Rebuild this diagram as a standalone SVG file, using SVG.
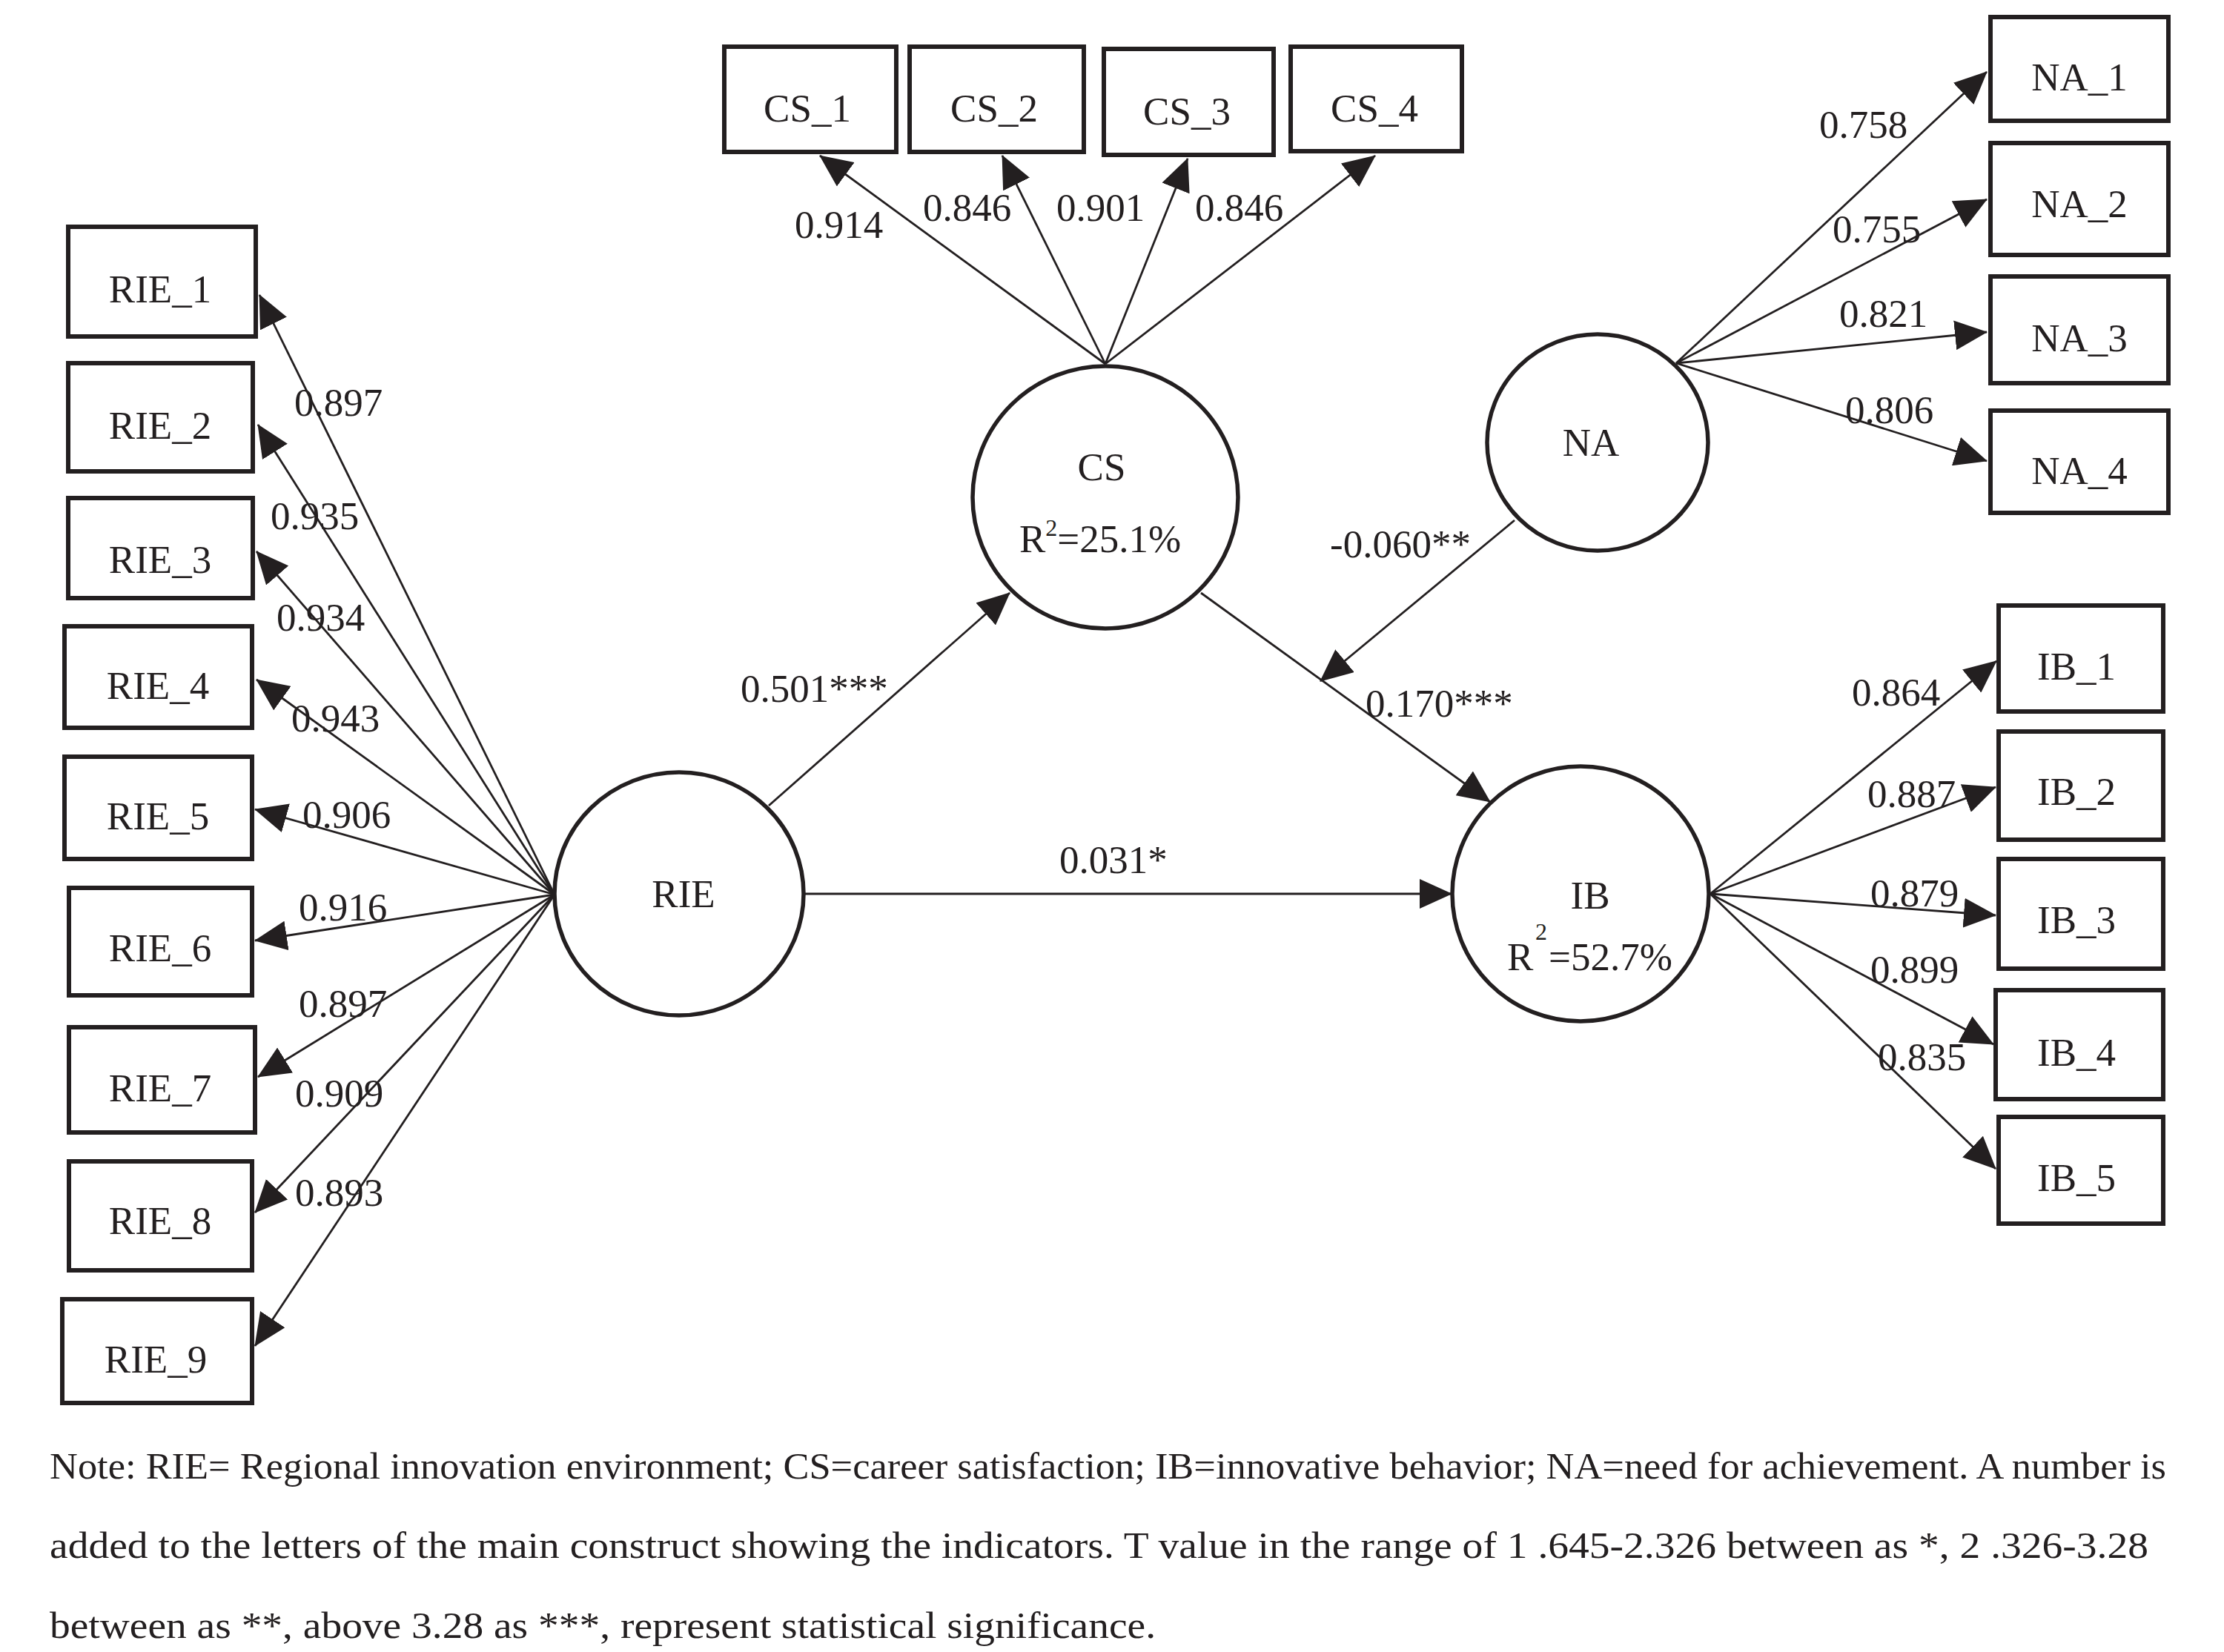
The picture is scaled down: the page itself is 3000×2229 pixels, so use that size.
<svg xmlns="http://www.w3.org/2000/svg" width="3000" height="2229" viewBox="0 0 3000 2229">
<style>
text{font-family:"Liberation Serif","Times New Roman",serif;fill:#231f20}
.box{fill:#fff;stroke:#231f20;stroke-width:6}
.lat{fill:#fff;stroke:#231f20;stroke-width:5.5}
.t{font-size:53px;text-anchor:middle}
.l{font-size:53px}
.n{font-size:50px}
.c line{stroke:#231f20;stroke-width:2.8;marker-end:url(#ah)}
</style>
<defs>
<marker id="ah" markerUnits="userSpaceOnUse" markerWidth="44" markerHeight="40" refX="43" refY="20" orient="auto" viewBox="0 0 44 40">
<path d="M0,0 L44,20 L0,40 Z" fill="#231f20"/>
</marker>
</defs>
<rect width="3000" height="2229" fill="#fff"/>
<g class="c" id="connectors">
<line x1="748" y1="1207" x2="350" y2="398"/>
<line x1="748" y1="1207" x2="348" y2="573"/>
<line x1="748" y1="1207" x2="346" y2="744"/>
<line x1="748" y1="1207" x2="346" y2="917"/>
<line x1="748" y1="1207" x2="344" y2="1092"/>
<line x1="748" y1="1207" x2="344" y2="1269"/>
<line x1="748" y1="1207" x2="348" y2="1453"/>
<line x1="748" y1="1207" x2="344" y2="1636"/>
<line x1="748" y1="1207" x2="344" y2="1816"/>
<line x1="1491" y1="491" x2="1106" y2="210"/>
<line x1="1491" y1="491" x2="1352" y2="210"/>
<line x1="1491" y1="491" x2="1602" y2="214"/>
<line x1="1491" y1="491" x2="1855" y2="210"/>
<line x1="2261" y1="490" x2="2680" y2="97"/>
<line x1="2261" y1="490" x2="2680" y2="269"/>
<line x1="2261" y1="490" x2="2680" y2="448"/>
<line x1="2261" y1="490" x2="2680" y2="622"/>
<line x1="2307" y1="1206" x2="2693" y2="892"/>
<line x1="2307" y1="1206" x2="2692" y2="1062"/>
<line x1="2307" y1="1206" x2="2692" y2="1235"/>
<line x1="2307" y1="1206" x2="2689" y2="1409"/>
<line x1="2307" y1="1206" x2="2692" y2="1577"/>
<line x1="1037" y1="1087" x2="1362" y2="800"/>
<line x1="1085" y1="1206" x2="1958" y2="1206"/>
<line x1="1620" y1="800" x2="2010" y2="1082"/>
<line x1="2043" y1="702" x2="1781" y2="919"/>
</g>
<g id="labels" class="l">
<text x="397" y="561">0.897</text>
<text x="365" y="714">0.935</text>
<text x="373" y="851">0.934</text>
<text x="393" y="987">0.943</text>
<text x="408" y="1117">0.906</text>
<text x="403" y="1242">0.916</text>
<text x="403" y="1372">0.897</text>
<text x="398" y="1493">0.909</text>
<text x="398" y="1627">0.893</text>
<text x="999" y="947">0.501***</text>
<text x="1072" y="321">0.914</text>
<text x="1245" y="298">0.846</text>
<text x="1425" y="298">0.901</text>
<text x="1612" y="298">0.846</text>
<text x="2454" y="186">0.758</text>
<text x="2472" y="327">0.755</text>
<text x="2481" y="441">0.821</text>
<text x="2489" y="571">0.806</text>
<text x="1794" y="752">-0.060**</text>
<text x="1842" y="967">0.170***</text>
<text x="1429" y="1178">0.031*</text>
<text x="2498" y="952">0.864</text>
<text x="2519" y="1089">0.887</text>
<text x="2523" y="1223">0.879</text>
<text x="2523" y="1326">0.899</text>
<text x="2533" y="1444">0.835</text>
</g>
<g id="RIE_1"><rect class="box" x="92" y="306" width="253" height="148"/><text class="t" x="216" y="408">RIE_1</text></g>
<g id="RIE_2"><rect class="box" x="92" y="490" width="249" height="146"/><text class="t" x="216" y="592">RIE_2</text></g>
<g id="RIE_3"><rect class="box" x="92" y="672" width="249" height="135"/><text class="t" x="216" y="773">RIE_3</text></g>
<g id="RIE_4"><rect class="box" x="87" y="845" width="253" height="137"/><text class="t" x="213" y="943">RIE_4</text></g>
<g id="RIE_5"><rect class="box" x="87" y="1021" width="253" height="138"/><text class="t" x="213" y="1119">RIE_5</text></g>
<g id="RIE_6"><rect class="box" x="93" y="1198" width="247" height="145"/><text class="t" x="216" y="1297">RIE_6</text></g>
<g id="RIE_7"><rect class="box" x="93" y="1386" width="251" height="142"/><text class="t" x="216" y="1486">RIE_7</text></g>
<g id="RIE_8"><rect class="box" x="93" y="1567" width="247" height="147"/><text class="t" x="216" y="1665">RIE_8</text></g>
<g id="RIE_9"><rect class="box" x="84" y="1753" width="256" height="140"/><text class="t" x="210" y="1852">RIE_9</text></g>
<g id="CS_1"><rect class="box" x="977" y="63" width="232" height="142"/><text class="t" x="1089" y="164">CS_1</text></g>
<g id="CS_2"><rect class="box" x="1227" y="63" width="235" height="142"/><text class="t" x="1341" y="164">CS_2</text></g>
<g id="CS_3"><rect class="box" x="1489" y="66" width="229" height="143"/><text class="t" x="1601" y="168">CS_3</text></g>
<g id="CS_4"><rect class="box" x="1741" y="63" width="231" height="141"/><text class="t" x="1854" y="164">CS_4</text></g>
<g id="NA_1"><rect class="box" x="2685" y="23" width="240" height="140"/><text class="t" x="2805" y="122">NA_1</text></g>
<g id="NA_2"><rect class="box" x="2685" y="193" width="240" height="151"/><text class="t" x="2805" y="293">NA_2</text></g>
<g id="NA_3"><rect class="box" x="2685" y="373" width="240" height="144"/><text class="t" x="2805" y="474">NA_3</text></g>
<g id="NA_4"><rect class="box" x="2685" y="554" width="240" height="138"/><text class="t" x="2805" y="653">NA_4</text></g>
<g id="IB_1"><rect class="box" x="2696" y="817" width="222" height="143"/><text class="t" x="2801" y="917">IB_1</text></g>
<g id="IB_2"><rect class="box" x="2696" y="987" width="222" height="146"/><text class="t" x="2801" y="1086">IB_2</text></g>
<g id="IB_3"><rect class="box" x="2696" y="1159" width="222" height="148"/><text class="t" x="2801" y="1259">IB_3</text></g>
<g id="IB_4"><rect class="box" x="2692" y="1336" width="226" height="147"/><text class="t" x="2801" y="1438">IB_4</text></g>
<g id="IB_5"><rect class="box" x="2696" y="1507" width="222" height="144"/><text class="t" x="2801" y="1607">IB_5</text></g>
<g id="RIE"><ellipse class="lat" cx="916" cy="1206" rx="168" ry="164"/><text class="t" x="922" y="1224">RIE</text></g>
<g id="CS"><ellipse class="lat" cx="1491" cy="671" rx="179" ry="177"/><text class="t" x="1486" y="648">CS</text><text class="t" x="1484" y="745">R<tspan font-size="32" dy="-22">2</tspan><tspan dy="22">=25.1%</tspan></text></g>
<g id="NA"><ellipse class="lat" cx="2155" cy="597" rx="149" ry="146"/><text class="t" x="2146" y="615">NA</text></g>
<g id="IB"><ellipse class="lat" cx="2132" cy="1206" rx="173" ry="172"/><text class="t" x="2145" y="1226">IB</text><text class="l" x="2033" y="1309">R</text><text x="2071" y="1268" font-size="32">2</text><text class="l" x="2089" y="1309">=52.7%</text></g>
<g id="note" class="n">
<text x="67" y="1995" textLength="2855" lengthAdjust="spacingAndGlyphs">Note: RIE= Regional innovation environment; CS=career satisfaction; IB=innovative behavior; NA=need for achievement. A number is</text>
<text x="67" y="2102" textLength="2831" lengthAdjust="spacingAndGlyphs">added to the letters of the main construct showing the indicators. T value in the range of 1 .645-2.326 between as *, 2 .326-3.28</text>
<text x="67" y="2210" textLength="1492" lengthAdjust="spacingAndGlyphs">between as **, above 3.28 as ***, represent statistical significance.</text>
</g>
</svg>
